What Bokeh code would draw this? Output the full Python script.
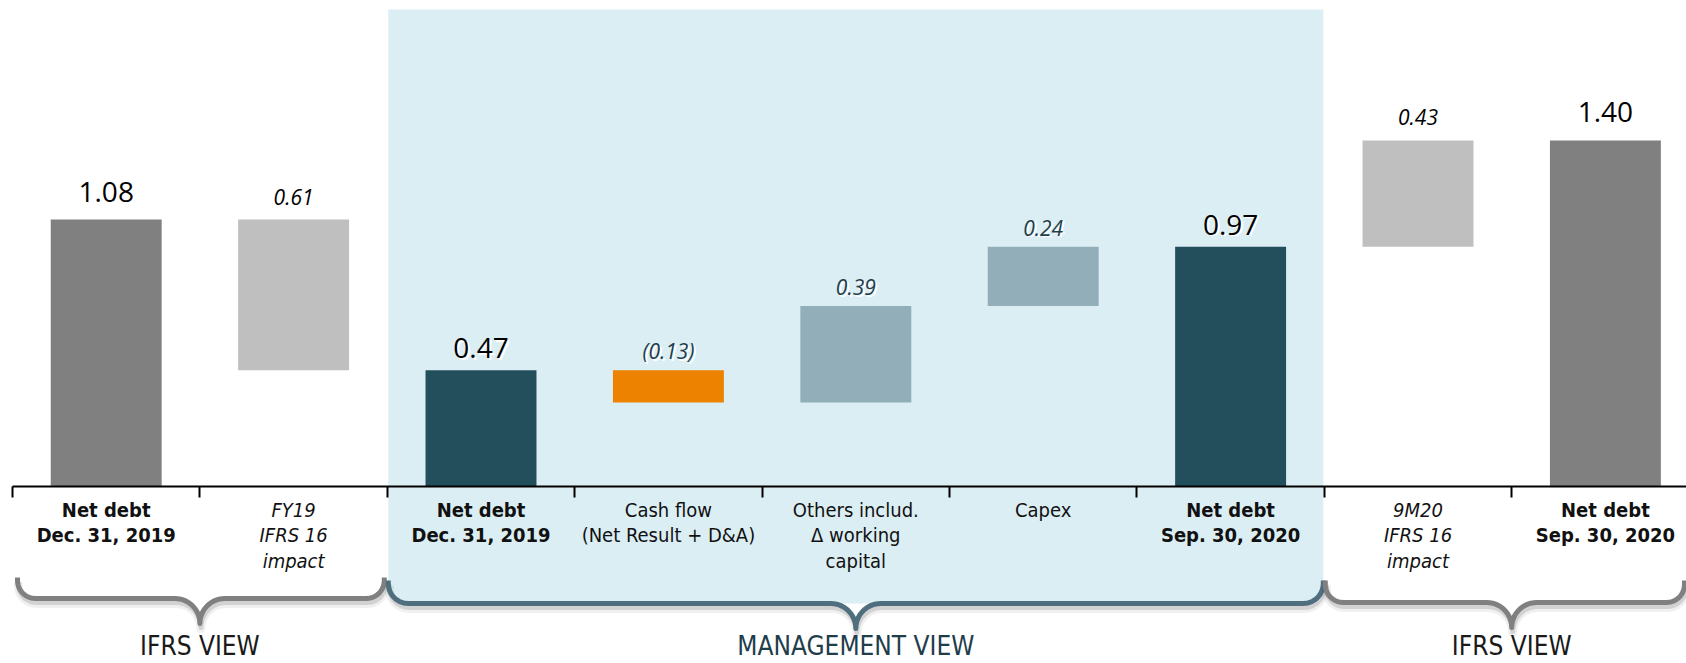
import numpy as np
from bokeh.plotting import figure
from bokeh.models import ColumnDataSource, Range1d, LinearAxis, FixedTicker
from bokeh.core.properties import value
from bokeh.embed import file_html
from bokeh.resources import INLINE

# ---------------- data ----------------
categories = ["Net debt\nDec. 31, 2019", "FY19\nIFRS 16\nimpact", "Net debt\nDec. 31, 2019",
              "Cash flow\n(Net Result + D&A)", "Others includ.\nΔ working\ncapital", "Capex",
              "Net debt\nSep. 30, 2020", "9M20\nIFRS 16\nimpact", "Net debt\nSep. 30, 2020"]
kinds = ["total", "delta", "total", "delta", "delta", "delta", "total", "delta", "total"]
values = [1.08, -0.61, 0.47, -0.13, 0.39, 0.24, 0.97, 0.43, 1.40]
value_labels = ["1.08", "0.61", "0.47", "(0.13)", "0.39", "0.24", "0.97", "0.43", "1.40"]
views = ["IFRS", "IFRS", "MGMT", "MGMT", "MGMT", "MGMT", "MGMT", "IFRS", "IFRS"]
label_styles = ["bold", "italic", "bold", "normal", "normal", "normal", "bold", "italic", "bold"]
bar_colors = ["#808080", "#bfbfbf", "#234e5c", "#ec8200", "#92aeb9", "#92aeb9", "#234e5c", "#bfbfbf", "#808080"]
view_groups = [("IFRS VIEW", 0, 2, 1.0), ("MANAGEMENT VIEW", 2, 7, 4.5), ("IFRS VIEW", 7, 9, 8.0)]

# ---------------- layout constants (pixels of the page) ----------------
PX = 187.4      # px per category
PY = 247.2      # px per unit of value
X0 = 12.0       # page x of first category boundary
Y0 = 486.0      # page y of value 0
W, H = 1686, 663

def dx(px):
    return (px - X0) / PX

def dy(py):
    return (Y0 - py) / PY

def bx(i):
    return X0 + PX * i

# ---------------- waterfall computation ----------------
bottoms, tops = [], []
level = 0.0
for k, v in zip(kinds, values):
    if k == "total":
        b, t = 0.0, v
        level = v
    else:
        nl = level + v
        b, t = min(level, nl), max(level, nl)
        level = nl
    bottoms.append(b)
    tops.append(t)

xs = [i + 0.5 for i in range(len(categories))]

p = figure(width=W, height=H, output_backend="svg", toolbar_location=None,
           x_range=Range1d(dx(0), dx(W)), y_range=Range1d(dy(H), dy(0)),
           x_axis_type=None, y_axis_type=None, min_border=0)
p.outline_line_color = None
p.grid.visible = False
p.background_fill_color = "white"

# ---------------- brace geometry ----------------
def brace_px(x0, x1, xc, top, h, r, n, notch=True):
    pts = [(x0, top)]
    for a in np.linspace(np.pi, np.pi / 2, 14):
        pts.append((x0 + r + r * np.cos(a), h - r + r * np.sin(a)))
    if notch:
        for a in np.linspace(-np.pi / 2, 0, 14):
            pts.append((xc - n + n * np.cos(a), h + n + n * np.sin(a)))
        for a in np.linspace(np.pi, 1.5 * np.pi, 14):
            pts.append((xc + n + n * np.cos(a), h + n + n * np.sin(a)))
    for a in np.linspace(np.pi / 2, 0, 14):
        pts.append((x1 - r + r * np.cos(a), h - r + r * np.sin(a)))
    pts.append((x1, top))
    return pts

def to_data(pts, ox=0.0, oy=0.0):
    return [dx(x + ox) for x, _ in pts], [dy(y + oy) for _, y in pts]

brace_specs = [
    # x0, x1, xc, top, h, r, n, color
    (bx(0) + 5, bx(2) - 3, bx(1), 577, 598, 18, 25, "#808080"),
    (bx(2) + 1, bx(7) - 1, bx(4.5), 580, 603, 20, 25, "#4f6f7e"),
    (bx(7) + 1, 1684, bx(8), 580, 602, 18, 25, "#808080"),
]

# management background
m = brace_specs[1]
fill_pts = [(m[0], 9)] + brace_px(m[0], m[1], m[2], 580, m[4], m[5], m[6], notch=False)[1:-1] + [(m[1], 9)]
fx, fy = to_data(fill_pts)
p.patch(fx, fy, fill_color="#dbeef4", line_color=None)

# braces with soft shadow
for x0, x1, xc, top, h, r, n, col in brace_specs:
    pts = brace_px(x0, x1, xc, top, h, r, n)
    sx, sy = to_data(pts, 1, 5)
    p.line(sx, sy, line_color="black", line_alpha=0.06, line_width=9, line_join="round")
    sx, sy = to_data(pts, 1, 4)
    p.line(sx, sy, line_color="black", line_alpha=0.12, line_width=5, line_join="round")
    lx, ly = to_data(pts)
    p.line(lx, ly, line_color=col, line_width=5, line_join="round")

# ---------------- bars ----------------
src = ColumnDataSource(dict(x=xs, bottom=bottoms, top=tops, color=bar_colors))
p.vbar(x="x", bottom="bottom", top="top", width=0.592, fill_color="color", line_color=None, source=src)

# ---------------- axis at zero ----------------
ax = LinearAxis(fixed_location=0, ticker=FixedTicker(ticks=list(range(len(categories) + 1))),
                bounds=(0, len(categories)))
ax.axis_line_color = "black"
ax.axis_line_width = 2
ax.major_tick_in = 0
ax.major_tick_out = 11
ax.major_tick_line_width = 2
ax.major_tick_line_color = "black"
ax.minor_tick_line_color = None
ax.major_label_overrides = {i: "" for i in range(len(categories) + 1)}
p.add_layout(ax, "below")

# ---------------- value labels ----------------
def label_offset(k, v):
    if k == "total":
        return -28 if v == "IFRS" else -22
    return -23 if v == "IFRS" else -19

for i in range(len(categories)):
    k, v = kinds[i], views[i]
    size = "28px" if k == "total" else "21px"
    style = "normal" if k == "total" else "italic"
    color = "#000000" if (k == "total" or v == "IFRS") else "#1f3d4b"
    off = label_offset(k, v)
    if v == "MGMT":
        p.text(x=[xs[i]], y=[tops[i]], text=[value_labels[i]], text_align="center",
               text_baseline="alphabetic", x_offset=2, y_offset=off + 1.5,
               text_font=value("Open Sans"), text_font_size=size, text_font_style=style,
               text_color="white")
    p.text(x=[xs[i]], y=[tops[i]], text=[value_labels[i]], text_align="center",
           text_baseline="alphabetic", y_offset=off,
           text_font=value("Open Sans"), text_font_size=size, text_font_style=style,
           text_color=color)

# ---------------- category labels ----------------
cond = value("DejaVu Sans Condensed")
for st in ["bold", "italic", "normal"]:
    idx = [i for i in range(len(categories)) if label_styles[i] == st]
    p.text(x=[xs[i] for i in idx], y=[dy(497)] * len(idx), text=[categories[i] for i in idx],
           text_align="center", text_baseline="top", text_font=cond, text_font_size="20px",
           text_font_style=st, text_color="#111111", text_line_height=1.08)

# ---------------- view labels ----------------
for name, a, b, c in view_groups:
    p.text(x=[c], y=[dy(630)], text=[name], text_align="center", text_baseline="top",
           text_font=cond, text_font_size="26px",
           text_color="#1f3d4b" if name.startswith("MANAGEMENT") else "#1a1a1a")

open("out.html", "w").write(file_html(p, INLINE))
